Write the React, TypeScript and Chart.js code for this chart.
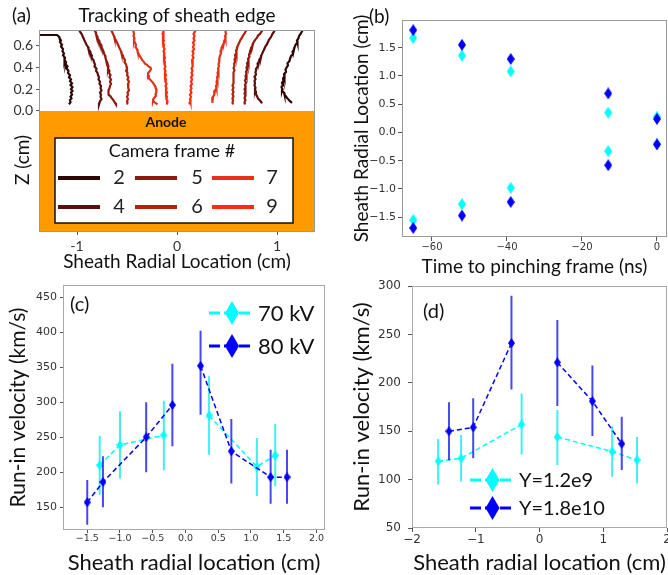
import React, { useEffect, useRef } from 'react';
import { Chart, registerables } from 'chart.js';
Chart.register(...registerables);

type P = [number, number];

// ---------------- Panel (a): tracking of sheath edge ----------------
const frameLabels = ['2', '4', '5', '6', '7', '9'];
const frameColors = ['#2e0505', '#5a0e0d', '#8a1a10', '#b2220f', '#e2331a', '#ff2d0d'];

const frame2Left: P[] = [[-1.38,0.70],[-1.20,0.70],[-1.18,0.685],[-1.175,0.67],[-1.16,0.65],[-1.17,0.635],[-1.15,0.61],[-1.16,0.595],[-1.14,0.57],[-1.145,0.55],[-1.13,0.53],[-1.14,0.515],[-1.12,0.49],[-1.125,0.47],[-1.11,0.45],[-1.115,0.43],[-1.095,0.41],[-1.105,0.395],[-1.085,0.37],[-1.09,0.35],[-1.07,0.33],[-1.08,0.31],[-1.06,0.29],[-1.07,0.275],[-1.05,0.255],[-1.065,0.24],[-1.045,0.22],[-1.06,0.20],[-1.045,0.185],[-1.06,0.17],[-1.05,0.15],[-1.065,0.13],[-1.055,0.115],[-1.07,0.10],[-1.065,0.08],[-1.08,0.06]];
const frame2Right: P[] = [[1.26,0.75],[1.245,0.725],[1.235,0.71],[1.22,0.69],[1.215,0.67],[1.20,0.65],[1.205,0.63],[1.185,0.61],[1.175,0.585],[1.17,0.565],[1.155,0.545],[1.16,0.525],[1.14,0.505],[1.13,0.48],[1.125,0.46],[1.105,0.44],[1.11,0.42],[1.095,0.40],[1.085,0.38],[1.09,0.36],[1.07,0.34],[1.075,0.32],[1.06,0.30],[1.065,0.28],[1.05,0.26],[1.06,0.24],[1.045,0.22],[1.055,0.20],[1.05,0.185],[1.07,0.17],[1.075,0.15],[1.09,0.135],[1.10,0.12],[1.115,0.105],[1.13,0.09],[1.15,0.075]];
const frame4Left: P[] = [[-0.98,0.75],[-0.97,0.73],[-0.955,0.71],[-0.945,0.69],[-0.935,0.67],[-0.925,0.65],[-0.915,0.63],[-0.905,0.61],[-0.89,0.59],[-0.885,0.57],[-0.87,0.55],[-0.865,0.53],[-0.85,0.51],[-0.855,0.49],[-0.835,0.47],[-0.83,0.45],[-0.82,0.43],[-0.825,0.41],[-0.805,0.39],[-0.81,0.37],[-0.795,0.35],[-0.79,0.33],[-0.78,0.31],[-0.785,0.29],[-0.77,0.27],[-0.775,0.25],[-0.76,0.23],[-0.765,0.21],[-0.755,0.19],[-0.77,0.17],[-0.76,0.15],[-0.765,0.13],[-0.755,0.11],[-0.77,0.09],[-0.775,0.075],[-0.78,0.06]];
const frame4Right: P[] = [[0.98,0.75],[0.97,0.73],[0.955,0.71],[0.945,0.69],[0.935,0.675],[0.92,0.655],[0.91,0.635],[0.90,0.615],[0.885,0.595],[0.875,0.575],[0.865,0.555],[0.855,0.535],[0.845,0.515],[0.84,0.495],[0.825,0.475],[0.82,0.455],[0.805,0.435],[0.81,0.415],[0.795,0.395],[0.79,0.375],[0.785,0.355],[0.79,0.335],[0.775,0.315],[0.785,0.295],[0.775,0.275],[0.78,0.255],[0.775,0.235],[0.785,0.215],[0.78,0.195],[0.79,0.175],[0.79,0.155],[0.80,0.135],[0.81,0.115],[0.825,0.10],[0.84,0.085],[0.85,0.07]];
const frame5Left: P[] = [[-0.83,0.75],[-0.815,0.73],[-0.81,0.71],[-0.80,0.69],[-0.795,0.67],[-0.78,0.65],[-0.775,0.63],[-0.76,0.61],[-0.755,0.59],[-0.745,0.57],[-0.735,0.55],[-0.73,0.53],[-0.72,0.51],[-0.715,0.49],[-0.71,0.47],[-0.70,0.45],[-0.695,0.43],[-0.685,0.41],[-0.69,0.39],[-0.675,0.37],[-0.68,0.35],[-0.665,0.33],[-0.675,0.31],[-0.66,0.29],[-0.67,0.27],[-0.66,0.25],[-0.67,0.23],[-0.675,0.21],[-0.685,0.19],[-0.69,0.17],[-0.68,0.15],[-0.665,0.135],[-0.655,0.12],[-0.64,0.105],[-0.63,0.09],[-0.62,0.075],[-0.61,0.06]];
const frame5Right: P[] = [[0.86,0.75],[0.845,0.73],[0.83,0.71],[0.81,0.695],[0.80,0.675],[0.785,0.66],[0.77,0.64],[0.76,0.62],[0.755,0.60],[0.74,0.58],[0.735,0.56],[0.73,0.54],[0.72,0.52],[0.725,0.50],[0.71,0.48],[0.715,0.46],[0.70,0.44],[0.705,0.42],[0.695,0.40],[0.70,0.38],[0.69,0.36],[0.695,0.34],[0.685,0.32],[0.69,0.30],[0.68,0.28],[0.69,0.26],[0.68,0.24],[0.685,0.22],[0.675,0.20],[0.685,0.18],[0.675,0.16],[0.685,0.14],[0.675,0.12],[0.685,0.10],[0.675,0.08],[0.68,0.06]];
const frame6Left: P[] = [[-0.66,0.75],[-0.65,0.73],[-0.64,0.71],[-0.63,0.69],[-0.625,0.67],[-0.61,0.65],[-0.60,0.63],[-0.59,0.61],[-0.58,0.59],[-0.57,0.57],[-0.56,0.55],[-0.555,0.53],[-0.54,0.51],[-0.535,0.49],[-0.52,0.47],[-0.525,0.45],[-0.51,0.43],[-0.505,0.41],[-0.50,0.39],[-0.51,0.37],[-0.495,0.35],[-0.50,0.33],[-0.485,0.31],[-0.495,0.29],[-0.48,0.27],[-0.49,0.25],[-0.485,0.23],[-0.49,0.21],[-0.48,0.19],[-0.495,0.17],[-0.49,0.15],[-0.50,0.13],[-0.49,0.11],[-0.50,0.09],[-0.495,0.075],[-0.50,0.06]];
const frame6Right: P[] = [[0.70,0.75],[0.685,0.73],[0.675,0.715],[0.66,0.695],[0.65,0.675],[0.635,0.655],[0.625,0.635],[0.615,0.615],[0.605,0.595],[0.60,0.575],[0.59,0.555],[0.595,0.535],[0.58,0.515],[0.585,0.495],[0.575,0.475],[0.58,0.455],[0.57,0.435],[0.575,0.415],[0.565,0.395],[0.575,0.375],[0.565,0.355],[0.57,0.335],[0.56,0.315],[0.57,0.295],[0.56,0.275],[0.565,0.255],[0.555,0.235],[0.565,0.215],[0.555,0.195],[0.565,0.175],[0.555,0.155],[0.565,0.135],[0.555,0.115],[0.56,0.095],[0.555,0.075],[0.56,0.06]];
const frame7Left: P[] = [[-0.44,0.75],[-0.435,0.73],[-0.43,0.71],[-0.435,0.69],[-0.425,0.67],[-0.43,0.65],[-0.42,0.63],[-0.41,0.61],[-0.415,0.59],[-0.40,0.57],[-0.395,0.55],[-0.385,0.53],[-0.375,0.51],[-0.36,0.49],[-0.35,0.47],[-0.33,0.45],[-0.32,0.435],[-0.30,0.425],[-0.285,0.41],[-0.265,0.40],[-0.26,0.385],[-0.27,0.37],[-0.285,0.355],[-0.29,0.34],[-0.28,0.32],[-0.285,0.305],[-0.27,0.29],[-0.255,0.275],[-0.24,0.26],[-0.23,0.245],[-0.22,0.23],[-0.215,0.215],[-0.205,0.20],[-0.21,0.185],[-0.205,0.17],[-0.215,0.155],[-0.21,0.14],[-0.225,0.125],[-0.235,0.11],[-0.24,0.095],[-0.225,0.08],[-0.21,0.07],[-0.195,0.06]];
const frame7Right: P[] = [[0.49,0.75],[0.485,0.73],[0.49,0.71],[0.48,0.69],[0.485,0.67],[0.475,0.65],[0.47,0.63],[0.46,0.61],[0.45,0.59],[0.445,0.57],[0.435,0.55],[0.44,0.53],[0.43,0.51],[0.425,0.49],[0.42,0.47],[0.425,0.45],[0.415,0.43],[0.42,0.41],[0.41,0.39],[0.415,0.37],[0.405,0.35],[0.41,0.33],[0.40,0.31],[0.405,0.29],[0.395,0.27],[0.40,0.25],[0.39,0.23],[0.395,0.21],[0.38,0.19],[0.375,0.17],[0.37,0.15],[0.36,0.13],[0.36,0.11],[0.35,0.09],[0.35,0.075]];
const frame9Left: P[] = [[-0.14,0.75],[-0.135,0.73],[-0.145,0.71],[-0.135,0.69],[-0.14,0.67],[-0.13,0.65],[-0.14,0.63],[-0.13,0.61],[-0.135,0.59],[-0.125,0.57],[-0.135,0.55],[-0.125,0.53],[-0.13,0.51],[-0.12,0.49],[-0.13,0.47],[-0.12,0.45],[-0.125,0.43],[-0.115,0.41],[-0.125,0.39],[-0.115,0.37],[-0.12,0.35],[-0.11,0.33],[-0.12,0.31],[-0.11,0.29],[-0.115,0.27],[-0.105,0.25],[-0.115,0.23],[-0.105,0.21],[-0.11,0.19],[-0.10,0.17],[-0.11,0.15],[-0.10,0.13],[-0.105,0.11],[-0.095,0.09],[-0.10,0.075],[-0.10,0.06]];
const frame9Right: P[] = [[0.17,0.75],[0.18,0.73],[0.165,0.71],[0.175,0.69],[0.165,0.67],[0.175,0.65],[0.16,0.63],[0.17,0.61],[0.16,0.59],[0.17,0.57],[0.155,0.55],[0.165,0.53],[0.155,0.51],[0.165,0.49],[0.15,0.47],[0.16,0.45],[0.15,0.43],[0.16,0.41],[0.145,0.39],[0.155,0.37],[0.145,0.35],[0.155,0.33],[0.14,0.31],[0.15,0.29],[0.14,0.27],[0.15,0.25],[0.135,0.23],[0.145,0.21],[0.135,0.19],[0.145,0.17],[0.13,0.15],[0.14,0.13],[0.13,0.11],[0.135,0.09],[0.125,0.075],[0.13,0.06]];
const anodeSurface: P[] = [[-1.38, 0], [1.38, 0]];
const aXTicks = [-1, 0, 1];
const aYTicks = [0, 0.2, 0.4, 0.6];

// ---------------- Panel (b): sheath radial location vs time ----------------
const pinchTimes = [-65, -52, -39, -13, 0];
const kv70Top = [1.67, 1.36, 1.08, 0.35, 0.28];
const kv70Bottom = [-1.55, -1.27, -0.98, -0.33, -0.21];
const kv80Top = [1.81, 1.55, 1.30, 0.69, 0.24];
const kv80Bottom = [-1.69, -1.47, -1.23, -0.58, -0.21];
const bXTicks = [-60, -40, -20, 0];
const bYTicks = [-1.5, -1.0, -0.5, 0, 0.5, 1.0, 1.5];

// ---------------- Panel (c): run-in velocity, 70 / 80 kV ----------------
const c70X = [-1.31, -1.0, -0.33, 0.36, 1.09, 1.37];
const c70Y = [210, 239, 253, 281, 208, 224];
const c70Lo = [168, 191, 203, 225, 166, 180];
const c70Hi = [252, 287, 302, 337, 249, 269];
const c80X = [-1.5, -1.26, -0.6, -0.2, 0.23, 0.70, 1.30, 1.55];
const c80Y = [157, 186, 250, 296, 352, 230, 193, 193];
const c80Lo = [125, 150, 200, 237, 282, 184, 155, 155];
const c80Hi = [189, 223, 300, 355, 402, 276, 232, 232];
const cXTicks = [-1.5, -1.0, -0.5, 0, 0.5, 1.0, 1.5, 2.0];
const cYTicks = [150, 200, 250, 300, 350, 400, 450];

// ---------------- Panel (d): run-in velocity, Y=1.2e9 / 1.8e10 ----------------
const d12X = [-1.59, -1.23, -0.28, 0.28, 1.14, 1.53];
const d12Y = [119, 122, 157, 144, 129, 120];
const d12Lo = [95, 98, 126, 115, 103, 96];
const d12Hi = [142, 146, 189, 172, 155, 144];
const d18X = [-1.42, -1.04, -0.44, 0.28, 0.83, 1.29];
const d18Y = [150, 154, 241, 221, 181, 137];
const d18Lo = [120, 122, 193, 176, 145, 110];
const d18Hi = [180, 184, 290, 265, 218, 165];
const dXTicks = [-2, -1, 0, 1, 2];
const dYTicks = [50, 100, 150, 200, 250, 300];

// ---------------- styling helpers ----------------
const SANS = "Lato, 'Open Sans', sans-serif";
const MONO = "'DejaVu Sans', sans-serif";
const CYAN = '#00ffff';
const BLUE = '#0000ff';
const CYAN_ERR = 'rgba(0, 235, 235, 0.75)';
const BLUE_ERR = 'rgba(20, 20, 240, 0.78)';

const minus = (s: string) => s.replace('-', '\u2212');

function diamondImage(w: number, h: number, color: string) {
  const c = document.createElement('canvas');
  c.width = w; c.height = h;
  const g = c.getContext('2d')!;
  g.fillStyle = color;
  g.beginPath();
  g.moveTo(w / 2, 0); g.lineTo(w, h / 2); g.lineTo(w / 2, h); g.lineTo(0, h / 2);
  g.closePath(); g.fill();
  return c;
}

function drawDiamond(ctx: CanvasRenderingContext2D, cx: number, cy: number, w: number, h: number, color: string) {
  ctx.fillStyle = color;
  ctx.beginPath();
  ctx.moveTo(cx, cy - h / 2); ctx.lineTo(cx + w / 2, cy); ctx.lineTo(cx, cy + h / 2); ctx.lineTo(cx - w / 2, cy);
  ctx.closePath(); ctx.fill();
}

const fitAxis = (kind: 'x' | 'y', size: number) => (s: any) => {
  if (kind === 'x') s.height = size; else s.width = size;
  s.paddingLeft = 0; s.paddingRight = 0; s.paddingTop = 0; s.paddingBottom = 0;
};
const setTicks = (vals: number[]) => (s: any) => { s.ticks = vals.map((v) => ({ value: v })); };

const frameBox = (color: string) => ({
  id: 'frameBox',
  afterDatasetsDraw(chart: any) {
    const { left, top, right, bottom } = chart.chartArea;
    const ctx = chart.ctx;
    ctx.save();
    ctx.strokeStyle = color; ctx.lineWidth = 1;
    ctx.strokeRect(left + 0.5, top + 0.5, right - left - 1, bottom - top - 1);
    ctx.restore();
  },
});

type T = { text: string; x: number; y: number; font: string; color?: string; align?: CanvasTextAlign; rotate?: number };
const texts = (items: T[]) => ({
  id: 'texts',
  afterDraw(chart: any) {
    const ctx = chart.ctx;
    items.forEach((t) => {
      ctx.save();
      ctx.translate(t.x, t.y);
      if (t.rotate) ctx.rotate(t.rotate);
      ctx.font = t.font; ctx.fillStyle = t.color || '#111';
      ctx.textAlign = t.align || 'left'; ctx.textBaseline = 'middle';
      ctx.fillText(t.text, 0, 0);
      ctx.restore();
    });
  },
});

type LE = { label: string; color: string; y: number };
const lineLegend = (entries: LE[], x0: number, x1: number, textX: number, font: string) => ({
  id: 'lineLegend',
  afterDraw(chart: any) {
    const ctx = chart.ctx;
    entries.forEach((e) => {
      ctx.save();
      ctx.strokeStyle = e.color; ctx.lineWidth = 3; ctx.setLineDash([11, 4]);
      ctx.beginPath(); ctx.moveTo(x0, e.y); ctx.lineTo(x1, e.y); ctx.stroke();
      ctx.setLineDash([]);
      drawDiamond(ctx, (x0 + x1) / 2 + 1, e.y, 14, 24, e.color);
      ctx.font = font; ctx.fillStyle = '#111'; ctx.textAlign = 'left'; ctx.textBaseline = 'middle';
      ctx.fillText(e.label, textX, e.y + 1);
      ctx.restore();
    });
  },
});

const frameLegend = {
  id: 'frameLegend',
  afterDraw(chart: any) {
    const ctx = chart.ctx;
    ctx.save();
    ctx.fillStyle = '#fff'; ctx.fillRect(55, 138, 238, 85);
    ctx.strokeStyle = '#111'; ctx.lineWidth = 1.5; ctx.strokeRect(55, 138, 238, 85);
    ctx.fillStyle = '#111'; ctx.textBaseline = 'middle'; ctx.textAlign = 'center';
    ctx.font = `18px ${SANS}`;
    ctx.fillText('Camera frame #', 172, 151);
    const lineX = [58, 135, 212];
    const numX = [119, 197, 272];
    const rowY = [178, 207];
    frameLabels.forEach((lab, i) => {
      const col = Math.floor(i / 2), row = i % 2;
      const y = rowY[row];
      ctx.strokeStyle = frameColors[i]; ctx.lineWidth = 4;
      ctx.beginPath(); ctx.moveTo(lineX[col], y); ctx.lineTo(lineX[col] + 42, y); ctx.stroke();
      ctx.fillStyle = '#222'; ctx.font = `20px ${SANS}`;
      ctx.fillText(lab, numX[col], y);
    });
    ctx.restore();
  },
};

const noPlug = { legend: { display: false }, tooltip: { enabled: false }, title: { display: false } };

function errSegments(xs: number[], lo: number[], hi: number[]) {
  const d: any[] = [];
  xs.forEach((x, i) => { d.push({ x, y: lo[i] }, { x, y: hi[i] }, { x, y: null }); });
  return d;
}
function branches(xs: number[], ys: number[]) {
  const d: any[] = [];
  xs.forEach((x, i) => {
    if (i > 0 && xs[i - 1] < 0 && x > 0) d.push({ x: 0, y: null });
    d.push({ x, y: ys[i] });
  });
  return d;
}

function axis(o: any) {
  return {
    type: 'linear',
    min: o.min, max: o.max,
    afterBuildTicks: setTicks(o.ticks),
    afterFit: fitAxis(o.kind, o.size),
    border: { display: false },
    grid: { display: true, drawOnChartArea: false, drawTicks: true, tickLength: o.tickLength ?? 4, color: '#555', lineWidth: 1 },
    ticks: { autoSkip: false, maxRotation: 0, font: o.tickFont, color: '#333', padding: o.tickPad ?? 2, callback: o.fmt },
    title: o.title
      ? { display: true, text: o.title, color: '#111', font: { family: SANS, size: o.titleSize, lineHeight: 1 }, padding: o.kind === 'x' ? { top: 0, bottom: o.titlePad } : { top: o.titlePad, bottom: 0 } }
      : { display: false },
  };
}

function makeA(canvas: HTMLCanvasElement) {
  const tracks: P[][][] = [
    [frame2Left, frame2Right], [frame4Left, frame4Right], [frame5Left, frame5Right],
    [frame6Left, frame6Right], [frame7Left, frame7Right], [frame9Left, frame9Right],
  ];
  const datasets: any[] = [];
  tracks.forEach((pair, i) => pair.forEach((tr) => datasets.push({
    data: tr.map(([x, y]) => ({ x, y })), borderColor: frameColors[i], borderWidth: 2.2,
    pointRadius: 0, fill: false, tension: 0, borderJoinStyle: 'miter',
  })));
  datasets.push({ data: anodeSurface.map(([x, y]) => ({ x, y })), fill: 'start', backgroundColor: '#ff9a00', borderColor: '#ff9a00', borderWidth: 0, pointRadius: 0 });
  return new Chart(canvas, {
    type: 'line',
    data: { datasets },
    options: {
      animation: false, responsive: false,
      layout: { padding: { left: 0, top: 30, right: 15, bottom: 0 }, autoPadding: false },
      plugins: noPlug,
      scales: {
        x: axis({ kind: 'x', size: 48, min: -1.38, max: 1.38, ticks: aXTicks, tickFont: { family: SANS, size: 14 }, tickPad: 3.5, tickLength: 3,
          fmt: (v: number) => String(v), title: 'Sheath Radial Location (cm)', titleSize: 19, titlePad: 8.5 }),
        y: axis({ kind: 'y', size: 39, min: -1.115, max: 0.746, ticks: aYTicks, tickFont: { family: SANS, size: 14 }, tickPad: 3, tickLength: 3,
          fmt: (v: number) => v.toFixed(1) }),
      },
    } as any,
    plugins: [
      frameBox('#999'),
      frameLegend,
      texts([
        { text: '(a)', x: 12, y: 16, font: `19px ${SANS}` },
        { text: 'Tracking of sheath edge', x: 177, y: 16, font: `19px ${SANS}`, align: 'center' },
        { text: 'Z (cm)', x: 23, y: 160, font: `19px ${SANS}`, align: 'center', rotate: -Math.PI / 2 },
        { text: 'Anode', x: 166, y: 122, font: `bold 14px ${SANS}`, align: 'center', color: '#1a1000' },
      ]),
    ] as any,
  });
}

function makeB(canvas: HTMLCanvasElement) {
  const blueD = diamondImage(8, 12, BLUE);
  const cyanD = diamondImage(8, 12, CYAN);
  const pts = (top: number[], bottom: number[]) => [
    ...pinchTimes.map((t, i) => ({ x: t, y: top[i] })),
    ...pinchTimes.map((t, i) => ({ x: t, y: bottom[i] })),
  ];
  return new Chart(canvas, {
    type: 'scatter',
    data: {
      datasets: [
        { data: pts(kv80Top, kv80Bottom), pointStyle: blueD, pointRadius: 5, backgroundColor: BLUE },
        { data: pts(kv70Top, kv70Bottom), pointStyle: cyanD, pointRadius: 5, backgroundColor: CYAN },
      ],
    },
    options: {
      animation: false, responsive: false,
      layout: { padding: { left: 0, top: 20, right: 1, bottom: 0 }, autoPadding: false },
      plugins: noPlug,
      scales: {
        x: axis({ kind: 'x', size: 43, min: -68, max: 2.67, ticks: bXTicks, tickFont: { family: MONO, size: 10 }, tickPad: 0,
          fmt: (v: number) => minus(String(v)), title: 'Time to pinching frame (ns)', titleSize: 19, titlePad: 3.5 }),
        y: axis({ kind: 'y', size: 72, min: -1.85, max: 1.99, ticks: bYTicks, tickFont: { family: MONO, size: 11 }, tickPad: 2,
          fmt: (v: number) => minus(v.toFixed(1)), title: 'Sheath Radial Location (cm)', titleSize: 19, titlePad: 22.5 }),
      },
    } as any,
    plugins: [frameBox('#999'), texts([{ text: '(b)', x: 39, y: 17, font: `19px ${SANS}` }])] as any,
  });
}

function velocityDatasets(aX: number[], aY: number[], aLo: number[], aHi: number[], bX: number[], bY: number[], bLo: number[], bHi: number[]) {
  const blueD = diamondImage(7, 10, BLUE);
  const cyanD = diamondImage(7, 10, CYAN);
  return [
    { data: branches(bX, bY), borderColor: BLUE, borderWidth: 1.5, borderDash: [5, 3], pointStyle: blueD, pointRadius: 4, spanGaps: false, tension: 0 },
    { data: errSegments(bX, bLo, bHi), borderColor: BLUE_ERR, borderWidth: 2, pointRadius: 0, spanGaps: false },
    { data: branches(aX, aY), borderColor: CYAN, borderWidth: 1.5, borderDash: [5, 3], pointStyle: cyanD, pointRadius: 4, spanGaps: false, tension: 0 },
    { data: errSegments(aX, aLo, aHi), borderColor: CYAN_ERR, borderWidth: 2, pointRadius: 0, spanGaps: false },
  ];
}

function makeC(canvas: HTMLCanvasElement) {
  return new Chart(canvas, {
    type: 'line',
    data: { datasets: velocityDatasets(c70X, c70Y, c70Lo, c70Hi, c80X, c80Y, c80Lo, c80Hi) as any },
    options: {
      animation: false, responsive: false,
      layout: { padding: { left: 0, top: 5, right: 5, bottom: 0 }, autoPadding: false },
      plugins: noPlug,
      scales: {
        x: axis({ kind: 'x', size: 45, min: -1.87, max: 2.13, ticks: cXTicks, tickFont: { family: MONO, size: 9.5 }, tickPad: 0, tickLength: 3,
          fmt: (v: number) => minus(v.toFixed(1)), title: 'Sheath radial location (cm)', titleSize: 22, titlePad: 1 }),
        y: axis({ kind: 'y', size: 63, min: 117.5, max: 467.5, ticks: cYTicks, tickFont: { family: MONO, size: 11 }, tickPad: 3, tickLength: 3,
          fmt: (v: number) => String(v), title: 'Run-in velocity (km/s)', titleSize: 21, titlePad: 7.5 }),
      },
    } as any,
    plugins: [
      frameBox('#aaa'),
      texts([{ text: '(c)', x: 70, y: 25, font: `20px ${SANS}` }]),
      lineLegend([{ label: '70 kV', color: CYAN, y: 33 }, { label: '80 kV', color: BLUE, y: 66 }], 209, 253, 258, `22px ${SANS}`),
    ] as any,
  });
}

function makeD(canvas: HTMLCanvasElement) {
  return new Chart(canvas, {
    type: 'line',
    data: { datasets: velocityDatasets(d12X, d12Y, d12Lo, d12Hi, d18X, d18Y, d18Lo, d18Hi) as any },
    options: {
      animation: false, responsive: false,
      layout: { padding: { left: 0, top: 6, right: 1, bottom: 0 }, autoPadding: false },
      plugins: noPlug,
      scales: {
        x: axis({ kind: 'x', size: 47, min: -2, max: 2, ticks: dXTicks, tickFont: { family: MONO, size: 12 }, tickPad: 1, tickLength: 4,
          fmt: (v: number) => minus(String(v)), title: 'Sheath radial location (cm)', titleSize: 22, titlePad: 1 }),
        y: axis({ kind: 'y', size: 82, min: 50, max: 300, ticks: dYTicks, tickFont: { family: MONO, size: 12 }, tickPad: 7, tickLength: 4,
          fmt: (v: number) => String(v), title: 'Run-in velocity (km/s)', titleSize: 22, titlePad: 21 }),
      },
    } as any,
    plugins: [
      frameBox('#aaa'),
      texts([{ text: '(d)', x: 93, y: 32, font: `20px ${SANS}` }]),
      lineLegend([{ label: 'Y=1.2e9', color: CYAN, y: 200 }, { label: 'Y=1.8e10', color: BLUE, y: 228 }], 140, 183, 189, `20px ${SANS}`),
    ] as any,
  });
}

export default function App() {
  const refA = useRef<HTMLCanvasElement>(null);
  const refB = useRef<HTMLCanvasElement>(null);
  const refC = useRef<HTMLCanvasElement>(null);
  const refD = useRef<HTMLCanvasElement>(null);
  useEffect(() => {
    const charts = [makeA(refA.current!), makeB(refB.current!), makeC(refC.current!), makeD(refD.current!)];
    return () => charts.forEach((c) => c.destroy());
  }, []);
  const abs = (left: number, top: number): React.CSSProperties => ({ position: 'absolute', left, top, display: 'block' });
  return (
    <div style={{ position: 'absolute', left: 0, top: 0, width: 668, height: 575, background: '#fff', overflow: 'hidden' }}>
      <canvas ref={refA} width={330} height={280} style={abs(0, 0)} />
      <canvas ref={refB} width={338} height={280} style={abs(330, 0)} />
      <canvas ref={refC} width={330} height={295} style={abs(0, 280)} />
      <canvas ref={refD} width={338} height={295} style={abs(330, 280)} />
    </div>
  );
}
